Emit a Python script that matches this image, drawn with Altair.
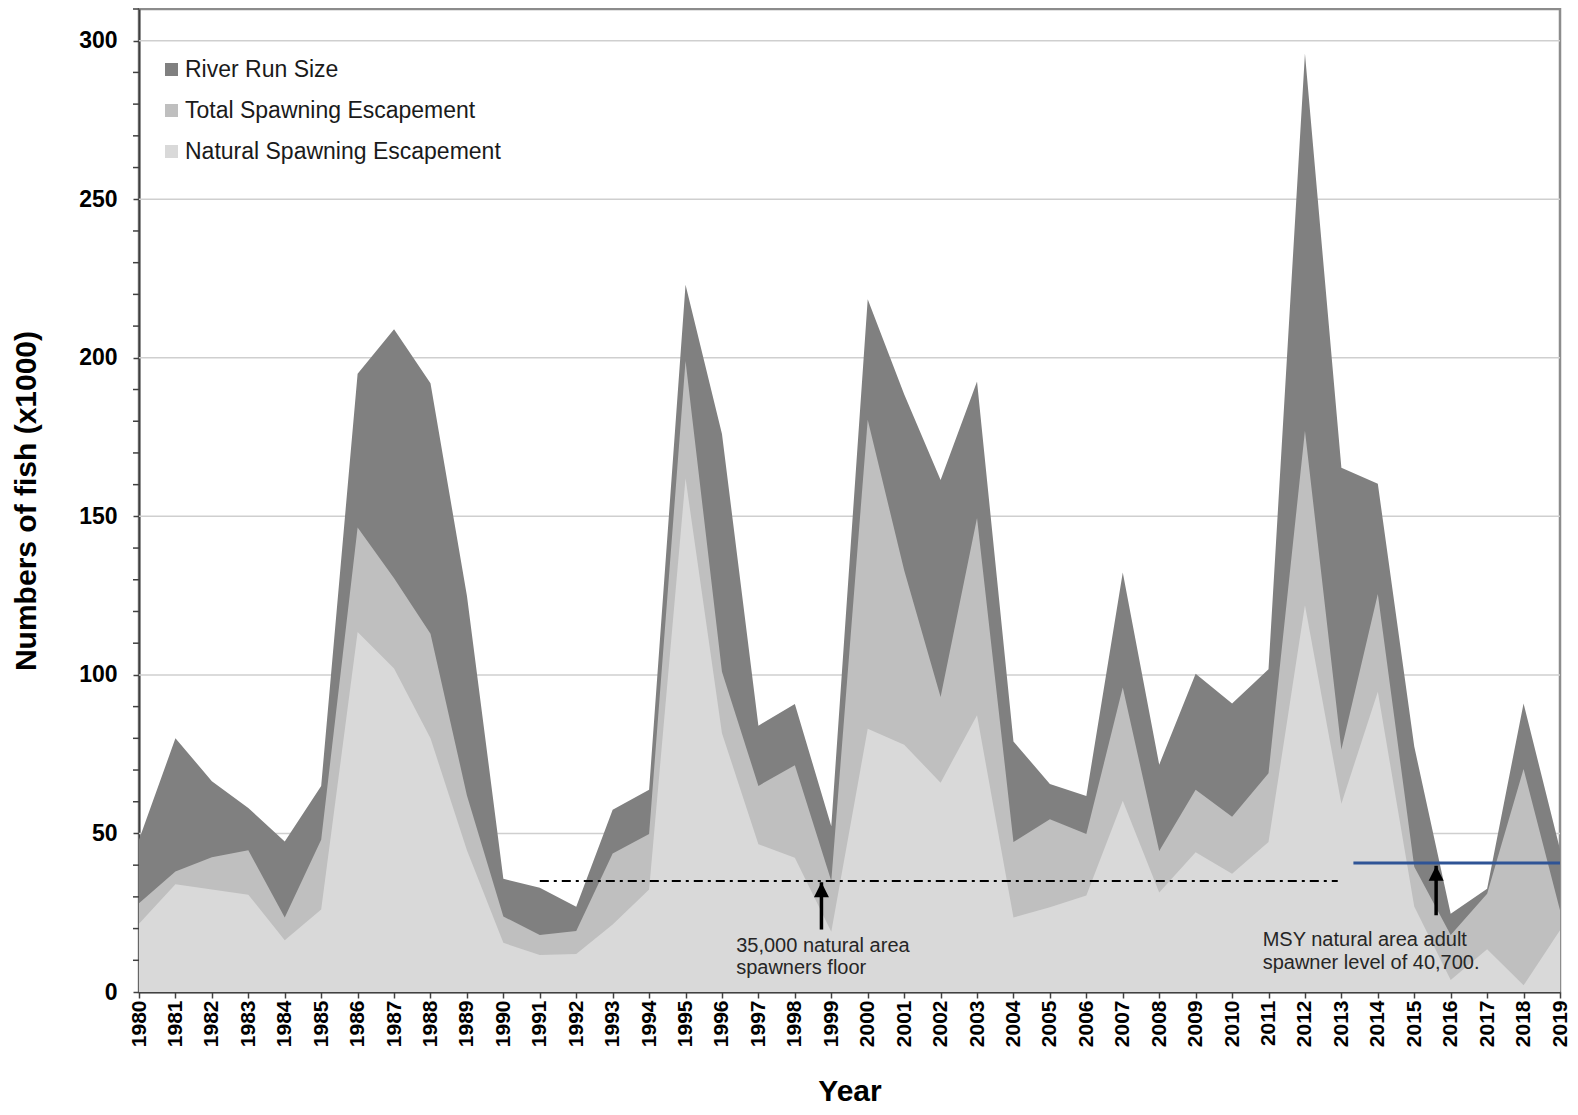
import altair as alt
import pandas as pd

years = list(range(1980, 2020))
river_run = [48, 80, 66.5, 58, 47.5, 65, 195, 209, 192, 125,
             35.7, 32.9, 26.9, 57.5, 63.8, 223, 176, 84, 90.8, 52.3,
             218.5, 188.5, 161.5, 192.5, 79, 65.6, 61.8, 132.3, 71.7, 100.4,
             91, 101.8, 296, 165.3, 160.3, 77.4, 24.7, 32.6, 91, 45]
total_spawn = [28, 38, 42.5, 44.7, 23.5, 48, 146.5, 130.5, 113, 62,
               23.8, 18, 19.2, 43.7, 49.8, 199, 101, 65, 71.5, 35,
               180.5, 133, 93, 149.5, 47.3, 54.5, 49.8, 96, 44.5, 63.8,
               55.3, 69, 177, 76.5, 125.5, 39.5, 18, 31, 70.3, 25.8]
natural_spawn = [21.5, 34, 32.3, 30.7, 16.3, 26, 113.5, 102, 80, 44.7,
                 15.5, 11.7, 12, 21.3, 32.3, 162, 81.6, 46.6, 42.3, 19,
                 83, 78, 66, 87.3, 23.5, 26.7, 30.4, 60.3, 31.4, 44.1,
                 37.3, 47.3, 122, 59.4, 94.7, 27, 3.8, 13.5, 2.1, 19.5]

series_names = ["River Run Size", "Total Spawning Escapement", "Natural Spawning Escapement"]
series_colors = ["#808080", "#BFBFBF", "#D9D9D9"]

y_label_values = [0, 50, 100, 150, 200, 250, 300]
y_grid_values = [50, 100, 150, 200, 250, 300]
y_minor_values = [v for v in range(0, 311, 10) if v % 50 != 0]

floor_value = [35]
floor_start = [1991]
floor_end = [2012.9]
msy_value = [40.7]
msy_start = [2013.33]
msy_end = [2019]

arrow_x = [1998.73, 2015.6]
arrow_tip = [34.6, 39.8]
arrow_base = [19.7, 24.2]

note_x = [1996.39, 1996.39, 2010.84, 2010.84]
note_y = [12.6, 5.6, 14.4, 7.4]
note_text = ["35,000 natural area", "spawners floor",
             "MSY natural area adult", "spawner level of 40,700."]

FONT = "Liberation Sans"

rows = []
for name, vals in zip(series_names, [river_run, total_spawn, natural_spawn]):
    for yr, v in zip(years, vals):
        rows.append({"year": yr, "value": v, "series": name})
df = pd.DataFrame(rows)

xscale = alt.Scale(domain=[1980, 2019], nice=False, zero=False)
yscale = alt.Scale(domain=[0, 310], nice=False)

x_axis = alt.Axis(values=years, format="d", labelAngle=-90, labelFont=FONT,
                  labelFontWeight="bold", labelFontSize=21, labelColor="#000000",
                  labelPadding=2, tickSize=6, labelOverlap=False, labelFlush=False,
                  labelBound=False, labelSeparation=0, grid=False, title="Year", titleFont=FONT,
                  titleFontSize=30, titleFontWeight="bold", titleColor="#000000",
                  titlePadding=30)
y_axis = alt.Axis(values=y_label_values, format="d",
                  labelFont=FONT, labelFontWeight="bold", labelFontSize=23,
                  labelColor="#000000", labelPadding=16, tickSize=6, labelOverlap=False,
                  grid=False, title="Numbers of fish (x1000)", titleFont=FONT,
                  titleFontSize=30, titleFontWeight="bold", titleColor="#000000",
                  titlePadding=37)

X = lambda f: alt.X(f, scale=xscale, axis=x_axis)
Y = lambda f, **kw: alt.Y(f, scale=yscale, axis=y_axis, **kw)

grid = alt.Chart(pd.DataFrame({"g": y_grid_values})).mark_rule(
    color="#cfcfcf", strokeWidth=1.5
).encode(y=Y("g:Q"))

minor = alt.Chart(pd.DataFrame({"m": y_minor_values})).mark_rule(
    color="#404040", strokeWidth=1.5
).encode(y=Y("m:Q"), x=alt.value(-6), x2=alt.value(0))

color_enc = alt.Color(
    "series:N",
    scale=alt.Scale(domain=series_names, range=series_colors),
    legend=alt.Legend(title=None, orient="none", legendX=21, legendY=49,
                      symbolType="square", symbolSize=169, symbolStrokeWidth=0,
                      symbolOpacity=1, labelFont=FONT, labelFontSize=23, labelLimit=500,
                      labelColor="#1a1a1a", rowPadding=17, labelOffset=2, padding=0),
)

areas = []
for name in series_names:
    areas.append(
        alt.Chart(df).transform_filter(alt.datum.series == name).mark_area(opacity=1).encode(
            x=X("year:Q"),
            y=Y("value:Q", stack=None),
            color=color_enc,
        )
    )

floor_df = pd.DataFrame({"x": floor_start, "x2": floor_end, "y": floor_value})
floor = alt.Chart(floor_df).mark_rule(color="#000000", strokeWidth=2.2,
                                      strokeDash=[9, 5, 3, 5]).encode(
    x=X("x:Q"), x2="x2:Q", y=Y("y:Q"))

msy_df = pd.DataFrame({"x": msy_start, "x2": msy_end, "y": msy_value})
msy = alt.Chart(msy_df).mark_rule(color="#2F5496", strokeWidth=3).encode(
    x=X("x:Q"), x2="x2:Q", y=Y("y:Q"))

arrow_df = pd.DataFrame({"x": arrow_x, "tip": arrow_tip, "base": arrow_base})
shafts = alt.Chart(arrow_df).mark_rule(color="#000000", strokeWidth=3.5).encode(
    x=X("x:Q"), y=Y("base:Q"), y2="tip:Q")
heads = alt.Chart(arrow_df).mark_point(shape="M0,0L0.5,1L-0.5,1Z", filled=True, size=900,
                                       color="#000000", opacity=1, strokeWidth=0).encode(
    x=X("x:Q"), y=Y("tip:Q"))

note_df = pd.DataFrame({"x": note_x, "y": note_y, "t": note_text})
notes = alt.Chart(note_df).mark_text(align="left", baseline="alphabetic", font=FONT,
                                     fontSize=20, color="#262626").encode(
    x=X("x:Q"), y=Y("y:Q"), text="t:N")

chart = alt.layer(grid, *areas, minor, floor, msy, shafts, heads, notes).properties(
    width=1421, height=983,
    padding={"left": 131, "top": 1, "right": 9, "bottom": 114},
    autosize=alt.AutoSizeParams(type="none"),
).configure_view(
    stroke="#8c8c8c", strokeWidth=2.5
).configure_axis(
    domainColor="#404040", domainWidth=2, tickColor="#404040", tickWidth=1.5,
    labelOverlap=False
)

chart.save("out.html", embed_options={"renderer": "svg", "actions": False})
